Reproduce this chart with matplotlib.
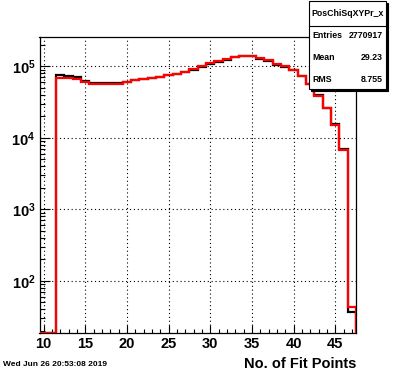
import numpy as np
import matplotlib
matplotlib.use("Agg")
import matplotlib.pyplot as plt
from matplotlib.patches import Rectangle
from matplotlib.ticker import FixedLocator, LogLocator, NullFormatter, MultipleLocator

plt.rcParams['font.family'] = ['Liberation Sans', 'DejaVu Sans']
plt.rcParams['mathtext.fontset'] = 'custom'
plt.rcParams['mathtext.rm'] = 'Liberation Sans:bold'
plt.rcParams['mathtext.bf'] = 'Liberation Sans:bold'

# ---- data ----
bin_edges = np.arange(9.5, 48.5, 1.0)          # 38 bins, centres 10..47
red_counts = [0, 0, 69300, 68000, 66400, 60900, 56000, 56000, 57200, 57200,
              60900, 63700, 66400, 68500, 71600, 74800, 78800, 84000, 91600, 101000,
              110000, 119000, 128000, 136000, 141000, 141000, 132000, 122500, 107700, 100000,
              88800, 73000, 56500, 38800, 26100, 15200, 6700, 42.7]
black_counts = [0, 0, 75500, 74000, 70000, 63000, 57800, 59000, 59000, 59000,
                61000, 63700, 66400, 68500, 71600, 74800, 78800, 84000, 89000, 98000,
                107000, 115000, 124000, 133000, 140000, 140000, 128000, 118500, 106000, 99000,
                87500, 72500, 57500, 40000, 26500, 15400, 6970, 36.6]
hist_name = "PosChiSqXYPr_x"
stats_labels = ["Entries", "Mean", "RMS"]
stats_values = ["2770917", "29.23", "8.755"]
xlabel = "No. of Fit Points"
date_text = "Wed Jun 26 20:53:08 2019"
xlim = (9.5, 47.5)
ylim = (18.7, 2.57e5)

W, H = 396, 372
fig = plt.figure(figsize=(W / 100, H / 100), dpi=100)
fig.patch.set_facecolor('white')
ax = fig.add_axes([39.5 / W, 1 - 333 / H, (356 - 39.5) / W, (333 - 37) / H])
ax.set_yscale('log')
ax.set_xlim(*xlim)
ax.set_ylim(*ylim)

ax.stairs(np.clip(black_counts, ylim[0], None), bin_edges, color='black', linewidth=1.6, zorder=3)
ax.stairs(np.clip(red_counts, ylim[0], None), bin_edges, color='#ff0000', linewidth=1.6, zorder=4)

# ticks
ax.xaxis.set_major_locator(FixedLocator([10, 15, 20, 25, 30, 35, 40, 45]))
ax.xaxis.set_minor_locator(MultipleLocator(1))
ax.yaxis.set_major_locator(FixedLocator([1e2, 1e3, 1e4, 1e5]))
ax.yaxis.set_minor_locator(LogLocator(base=10, subs=np.arange(2, 10), numticks=20))
ax.yaxis.set_minor_formatter(NullFormatter())
ax.set_yticklabels([r'$\mathbf{10^{2}}$', r'$\mathbf{10^{3}}$', r'$\mathbf{10^{4}}$', r'$\mathbf{10^{5}}$'])
ax.tick_params(axis='x', which='major', direction='in', length=6, width=0.8,
               labelsize=10.5, pad=3, top=False)
ax.tick_params(axis='x', which='minor', direction='in', length=3, width=0.8, top=False)
ax.tick_params(axis='y', which='major', direction='in', length=7, width=0.8,
               labelsize=10.5, pad=3, right=False)
ax.tick_params(axis='y', which='minor', direction='in', length=3.5, width=0.8, right=False)
for lab in ax.get_xticklabels():
    lab.set_fontweight('bold')

ax.grid(True, which='major', color='black', linestyle=(0, (1, 2.5)), linewidth=0.8)
for sp in ax.spines.values():
    sp.set_linewidth(0.9)

ax.set_xlabel(xlabel, fontsize=10.5, fontweight='bold', loc='right', labelpad=4)

# date
fig.text(3 / W, 1 - 365 / H, date_text, fontsize=6, fontweight='bold', va='center', ha='left')

# stats box
bx0, bx1, by0, by1 = 309, 386, 1, 89
shadow = Rectangle((bx0 + 1.5) / W, 0, transform=fig.transFigure) if False else None
fig.patches.append(Rectangle(((bx0 + 1.5) / W, 1 - (by1 + 1.5) / H), (bx1 - bx0) / W, (by1 - by0) / H,
                             transform=fig.transFigure, facecolor='black', edgecolor='black',
                             linewidth=0.8, zorder=5))
fig.patches.append(Rectangle((bx0 / W, 1 - by1 / H), (bx1 - bx0) / W, (by1 - by0) / H,
                             transform=fig.transFigure, facecolor='white', edgecolor='black',
                             linewidth=0.8, zorder=6))
fig.add_artist(plt.Line2D([bx0 / W, bx1 / W], [1 - 26 / H, 1 - 26 / H], transform=fig.transFigure,
                          color='black', linewidth=0.8, zorder=7))
fig.text((bx0 + bx1) / 2 / W, 1 - 13.5 / H, hist_name, fontsize=6.3, fontweight='bold',
         ha='center', va='center', zorder=8)
for i, (lab, val) in enumerate(zip(stats_labels, stats_values)):
    y = 36 + 22 * i
    fig.text(312 / W, 1 - y / H, lab, fontsize=6.3, fontweight='bold', ha='left', va='center', zorder=8)
    fig.text(383 / W, 1 - y / H, val, fontsize=6.3, fontweight='bold', ha='right', va='center', zorder=8)

fig.savefig('out.png', dpi=100, facecolor='white')
